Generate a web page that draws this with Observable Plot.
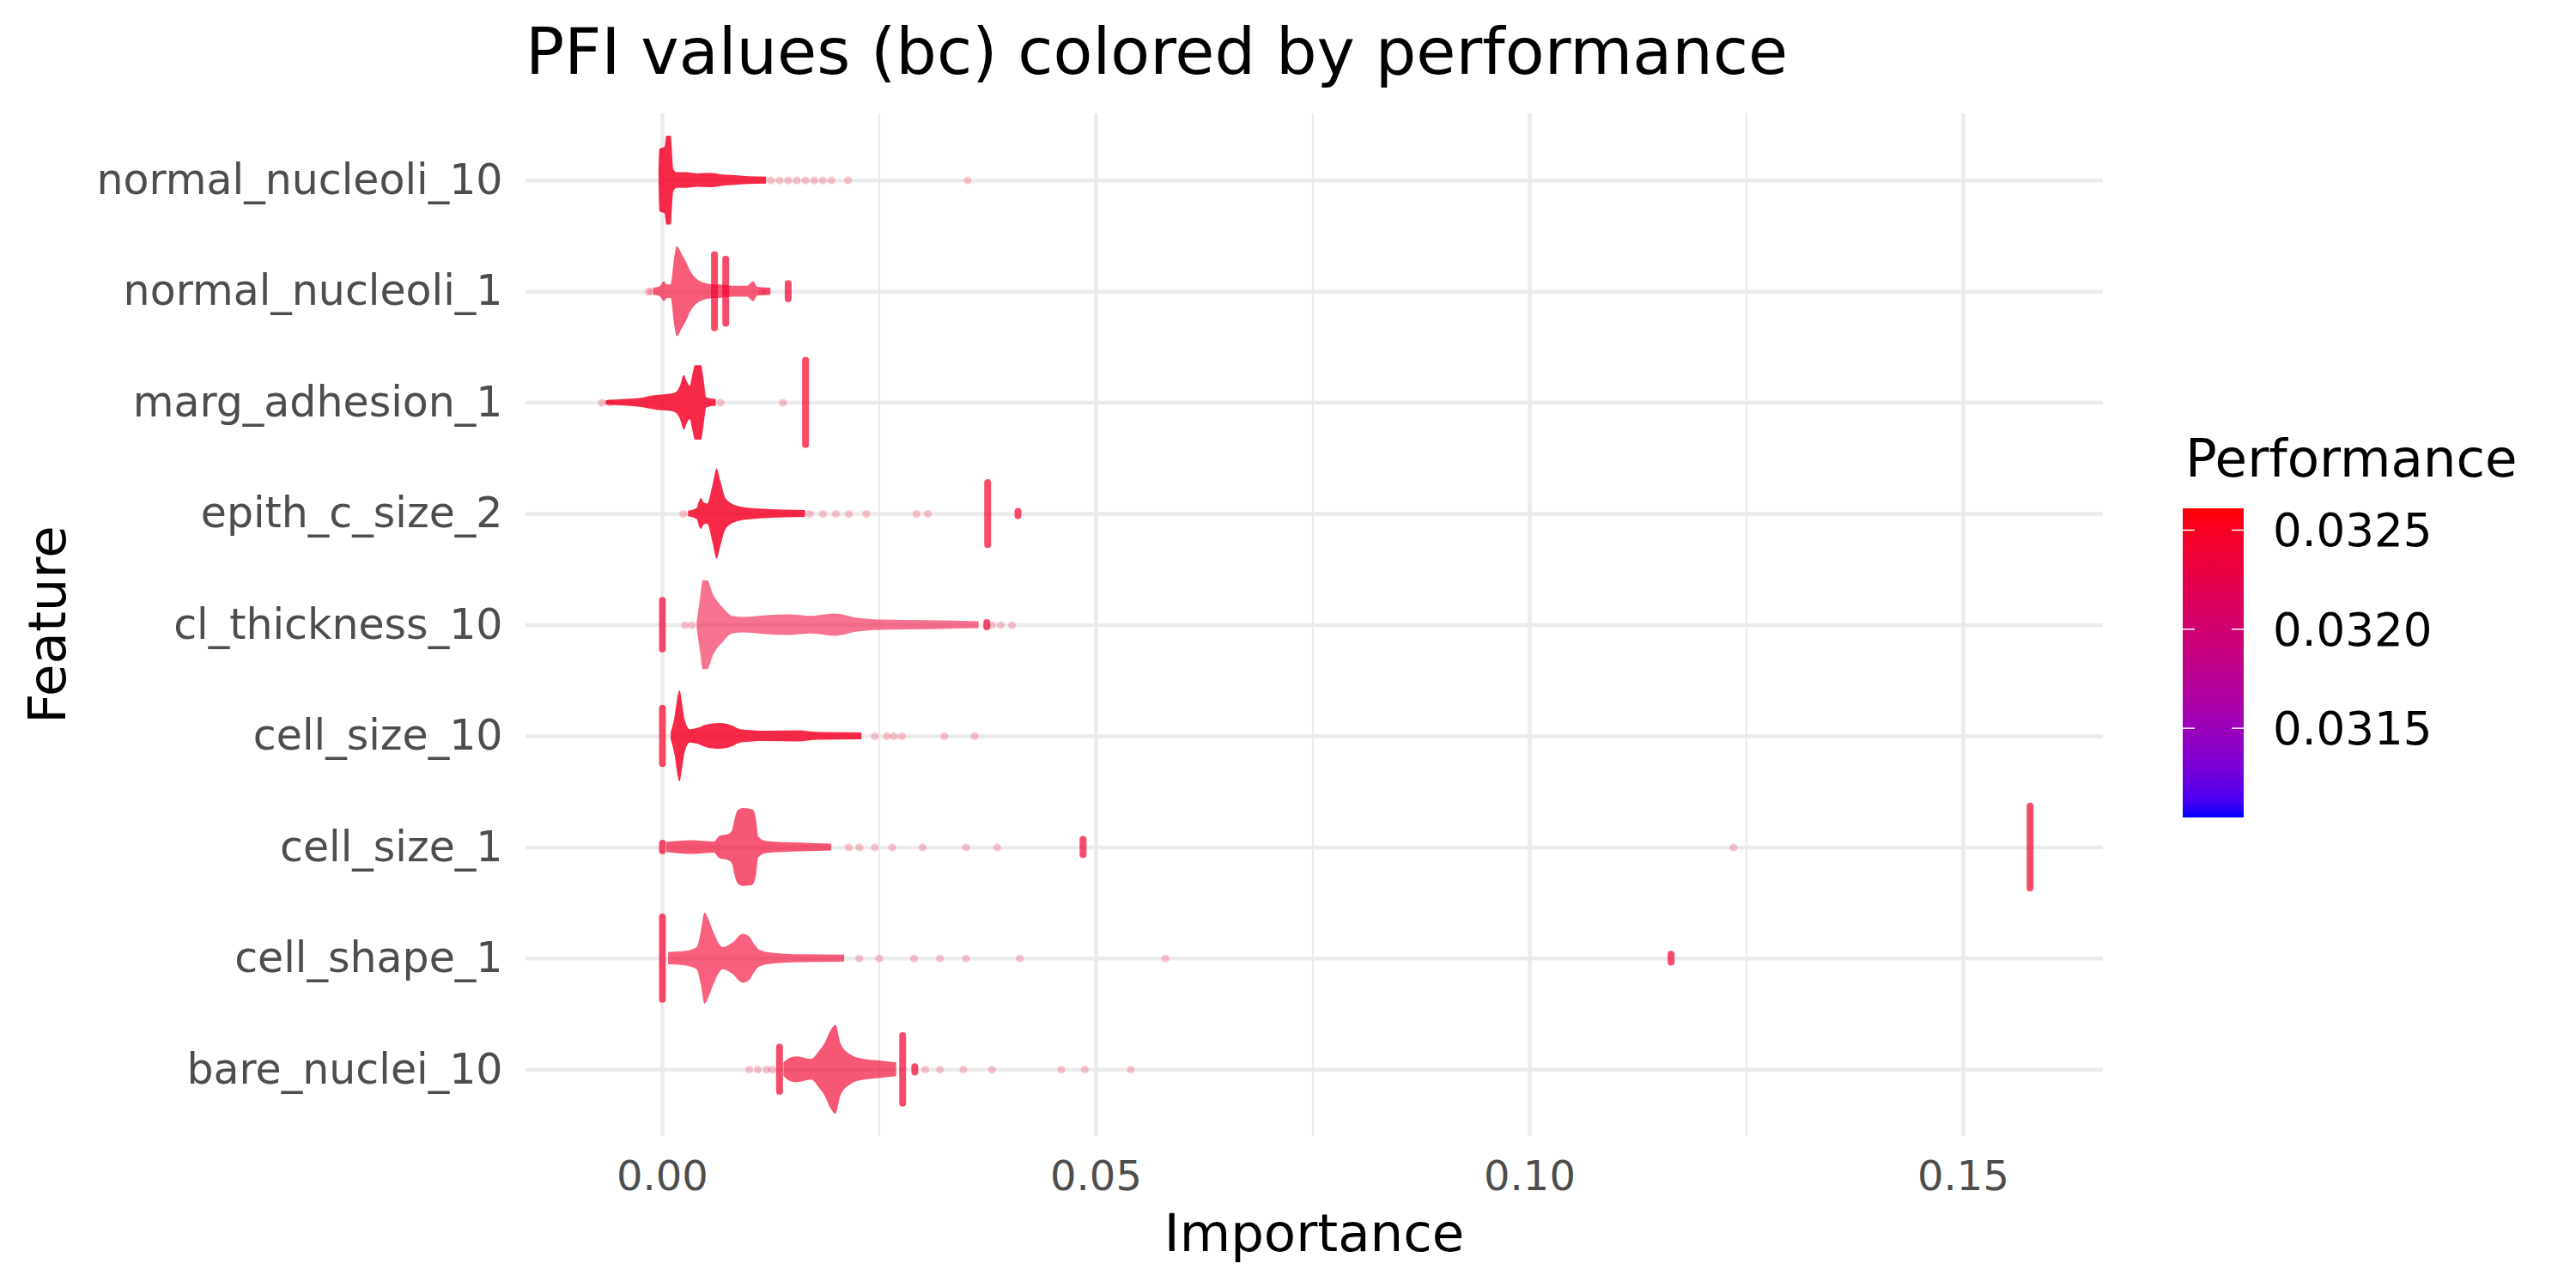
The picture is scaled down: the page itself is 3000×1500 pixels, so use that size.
<!DOCTYPE html>
<html>
<head>
<meta charset="utf-8">
<script src="https://cdn.jsdelivr.net/npm/d3@7"></script>
<script src="https://cdn.jsdelivr.net/npm/@observablehq/plot@0.6"></script>
<style>
  body { margin: 0; background: #ffffff; }
  #wrap { position: relative; width: 3000px; height: 1500px; font-family: "DejaVu Sans", sans-serif; }
  #wrap svg { position: absolute; left: 0; top: 0; }
</style>
</head>
<body>
<div id="wrap"></div>
<script>
// ---------------- DATA ----------------
const features = ["normal_nucleoli_10", "normal_nucleoli_1", "marg_adhesion_1", "epith_c_size_2",
  "cl_thickness_10", "cell_size_10", "cell_size_1", "cell_shape_1", "bare_nuclei_10"]; // top to bottom

// typical performance of each feature's points (colour)
const performance = [0.03248, 0.03243, 0.03248, 0.03248, 0.03240, 0.03248, 0.03243, 0.03243, 0.03243];

// dense bodies: [importance, relative half-width of the swarm]
const bodyNormalNucleoli10 = [[-0.0004, 0.03], [-0.0003, 0.28], [0.0003, 0.30], [0.0005, 0.40], [0.0010, 0.40], [0.0013, 0.10],
  [0.0017, 0.07], [0.0028, 0.07], [0.0040, 0.06], [0.0055, 0.065], [0.0070, 0.05], [0.0081, 0.045], [0.0100, 0.035], [0.0120, 0.031]];
const bodyNormalNucleoli1 = [[-0.0010, 0.031], [-0.0002, 0.05], [0.0002, 0.09], [0.0006, 0.06], [0.0010, 0.06], [0.0014, 0.30],
  [0.0017, 0.405], [0.0023, 0.33], [0.0028, 0.26], [0.0032, 0.19], [0.0040, 0.11], [0.0047, 0.08], [0.0055, 0.065],
  [0.0066, 0.06], [0.0081, 0.05], [0.0098, 0.05], [0.0105, 0.09], [0.0110, 0.04], [0.0125, 0.031]];
const bodyMargAdhesion1 = [[-0.0065, 0.02], [-0.0041, 0.031], [-0.0021, 0.046], [-0.0011, 0.062], [0.0, 0.07], [0.0009, 0.077],
  [0.0016, 0.093], [0.0021, 0.155], [0.0025, 0.245], [0.0029, 0.18], [0.0032, 0.15], [0.0035, 0.25], [0.0038, 0.335],
  [0.0045, 0.335], [0.0048, 0.20], [0.0051, 0.046], [0.0062, 0.031]];
const bodyEpithCSize2 = [[0.0030, 0.025], [0.0040, 0.05], [0.0043, 0.12], [0.0045, 0.14], [0.0048, 0.10], [0.0052, 0.09],
  [0.0058, 0.25], [0.0063, 0.405], [0.0067, 0.30], [0.0074, 0.13], [0.0089, 0.065], [0.0112, 0.045], [0.0140, 0.035], [0.0165, 0.031]];
const bodyClThickness10 = [[0.0040, 0.03], [0.0044, 0.25], [0.0047, 0.40], [0.0052, 0.40], [0.0059, 0.27], [0.0070, 0.155],
  [0.0081, 0.08], [0.0093, 0.07], [0.0120, 0.085], [0.0146, 0.093], [0.0172, 0.08], [0.0199, 0.10], [0.0225, 0.062],
  [0.0252, 0.046], [0.0309, 0.04], [0.0365, 0.031]];
const bodyCellSize10 = [[0.0010, 0.03], [0.0014, 0.15], [0.0020, 0.41], [0.0026, 0.15], [0.0032, 0.06], [0.0043, 0.077],
  [0.0050, 0.10], [0.0066, 0.116], [0.0081, 0.093], [0.0090, 0.06], [0.0120, 0.046], [0.0156, 0.05], [0.0180, 0.035], [0.0230, 0.031]];
const bodyCellSize1 = [[0.0005, 0.046], [0.0034, 0.062], [0.0060, 0.05], [0.0066, 0.10], [0.0077, 0.12], [0.0081, 0.155],
  [0.0083, 0.23], [0.0087, 0.325], [0.0093, 0.35], [0.0104, 0.34], [0.0108, 0.27], [0.0111, 0.093], [0.0120, 0.054],
  [0.0157, 0.04], [0.0195, 0.031]];
const bodyCellShape1 = [[0.0007, 0.055], [0.0024, 0.062], [0.0040, 0.10], [0.0045, 0.25], [0.0049, 0.41], [0.0053, 0.36],
  [0.0059, 0.24], [0.0070, 0.10], [0.0081, 0.14], [0.0093, 0.22], [0.0100, 0.20], [0.0106, 0.13], [0.0112, 0.077],
  [0.0127, 0.05], [0.0160, 0.035], [0.0210, 0.031]];
const bodyBareNuclei10 = [[0.0140, 0.06], [0.0146, 0.10], [0.0155, 0.116], [0.0172, 0.093], [0.0180, 0.155], [0.0187, 0.23],
  [0.0195, 0.36], [0.0200, 0.40], [0.0206, 0.23], [0.0218, 0.13], [0.0233, 0.093], [0.0252, 0.077], [0.0270, 0.062]];

// stacks of identical values (vertical runs): [importance, relative half-width]
const spikeNormalNucleoli10 = [];
const spikeNormalNucleoli1 = [[0.0060, 0.36], [0.0073, 0.32], [0.0145, 0.10]];
const spikeMargAdhesion1 = [[0.0165, 0.41]];
const spikeEpithCSize2 = [[0.0375, 0.31], [0.0410, 0.05]];
const spikeClThickness10 = [[0.0, 0.25], [0.0374, 0.05]];
const spikeCellSize10 = [[0.0, 0.28]];
const spikeCellSize1 = [[0.0, 0.065], [0.0485, 0.10], [0.1577, 0.40]];
const spikeCellShape1 = [[0.0, 0.40], [0.1163, 0.066]];
const spikeBareNuclei10 = [[0.0135, 0.23], [0.0277, 0.335], [0.0291, 0.055]];

// sparse single points in the tails: importance
const tailNormalNucleoli10 = [0.0125, 0.0135, 0.0145, 0.0155, 0.0165, 0.0175, 0.0185, 0.0195, 0.0214, 0.0352];
const tailNormalNucleoli1 = [-0.0016, -0.0013, 0.0115, 0.0120];
const tailMargAdhesion1 = [-0.0070, -0.0060, 0.0067, 0.0139];
const tailEpithCSize2 = [0.0024, 0.0170, 0.0185, 0.0200, 0.0215, 0.0235, 0.0293, 0.0306];
const tailClThickness10 = [0.0026, 0.0034, 0.0380, 0.0390, 0.0403];
const tailCellSize10 = [0.0245, 0.0259, 0.0267, 0.0276, 0.0325, 0.0360];
const tailCellSize1 = [0.0215, 0.0227, 0.0245, 0.0265, 0.0300, 0.0350, 0.0386, 0.1235];
const tailCellShape1 = [0.0227, 0.0250, 0.0290, 0.0320, 0.0350, 0.0412, 0.0580];
const tailBareNuclei10 = [0.0100, 0.0110, 0.0120, 0.0127, 0.0303, 0.0320, 0.0347, 0.0380, 0.0460, 0.0487, 0.0540];

const xTicks = [0, 0.05, 0.10, 0.15];
const xMinorTicks = [0.025, 0.075, 0.125];
const legendTicks = [0.0315, 0.0320, 0.0325];
const perfDomain = [0.03105, 0.03261];
const xDomain = [-0.01574, 0.16614];

// ---------------- tables built from the arrays ----------------
const bodies = [bodyNormalNucleoli10, bodyNormalNucleoli1, bodyMargAdhesion1, bodyEpithCSize2, bodyClThickness10,
  bodyCellSize10, bodyCellSize1, bodyCellShape1, bodyBareNuclei10];
const spikes = [spikeNormalNucleoli10, spikeNormalNucleoli1, spikeMargAdhesion1, spikeEpithCSize2, spikeClThickness10,
  spikeCellSize10, spikeCellSize1, spikeCellShape1, spikeBareNuclei10];
const tails = [tailNormalNucleoli10, tailNormalNucleoli1, tailMargAdhesion1, tailEpithCSize2, tailClThickness10,
  tailCellSize10, tailCellSize1, tailCellShape1, tailBareNuclei10];

const n = features.length;
const bodyRows = [], spikeRows = [], tailRows = [];
features.forEach((f, i) => {
  const idx = n - i, perf = performance[i];
  bodies[i].forEach(([v, hw]) => bodyRows.push({ k: i, feature: f, idx, v, hw, perf }));
  spikes[i].forEach(([v, hw]) => spikeRows.push({ k: i, feature: f, idx, v, hw, perf }));
  tails[i].forEach(v => tailRows.push({ k: i, feature: f, idx, v, perf }));
});

// ---------------- styles / layout ----------------
const W = 3000, H = 1500;
const mL = 612, mR = 551, mT = 132, mB = 177;
const bodyOpacity = [0.84, 0.64, 0.84, 0.84, 0.55, 0.84, 0.66, 0.62, 0.66];
const rowPx = (H - mT - mB) / (n + 0.2);
const rUnit = 4 / rowPx;
const grid = "#EBEBEB";

const marks = [
  Plot.ruleX(xMinorTicks, { stroke: grid, strokeWidth: 2.3 }),
  Plot.ruleX(xTicks, { stroke: grid, strokeWidth: 4.5 }),
  Plot.ruleY(d3.range(1, n + 1), { stroke: grid, strokeWidth: 4.5 }),
  ...features.map((f, i) => Plot.areaY(bodyRows.filter(d => d.k === i), {
    x: "v", y1: d => d.idx - d.hw, y2: d => d.idx + d.hw,
    fill: "perf", fillOpacity: bodyOpacity[i], curve: "monotone-x"
  })),
  Plot.ruleX(spikeRows, {
    x: "v", y1: d => d.idx - Math.max(d.hw - rUnit, 0.002), y2: d => d.idx + Math.max(d.hw - rUnit, 0.002),
    stroke: "perf", strokeWidth: 8, strokeLinecap: "round", strokeOpacity: 0.7
  }),
  Plot.dot(tailRows, { x: "v", y: "idx", r: 4.6, fill: "perf", fillOpacity: 0.22, stroke: null }),
  Plot.axisX({ ticks: xTicks, tickFormat: d3.format(".2f"), tickSize: 0, tickPadding: 28, fontSize: 48, color: "#4D4D4D", label: null }),
  Plot.axisY({ ticks: d3.range(1, n + 1), tickFormat: i => features[n - i], tickSize: 0, tickPadding: 27, fontSize: 49, color: "#4D4D4D", label: null })
];

const chart = Plot.plot({
  width: W, height: H,
  marginLeft: mL, marginRight: mR, marginTop: mT, marginBottom: mB,
  style: { fontFamily: "DejaVu Sans, sans-serif", background: "transparent", overflow: "visible" },
  x: { domain: xDomain, axis: null },
  y: { domain: [0.4, n + 0.6], axis: null },
  color: { type: "linear", domain: perfDomain, range: ["blue", "red"], interpolate: d3.interpolateLab },
  marks
});

const wrap = document.getElementById("wrap");
wrap.appendChild(chart);

// ---------------- titles and colour legend ----------------
const colorScale = d3.scaleLinear().domain(perfDomain).range(["blue", "red"]).interpolate(d3.interpolateLab);
const svg = d3.create("svg").attr("width", W).attr("height", H)
  .style("font-family", "DejaVu Sans, sans-serif").style("pointer-events", "none");

svg.append("text").attr("x", 612).attr("y", 86).attr("font-size", 75).attr("fill", "#000")
  .text("PFI values (bc) colored by performance");
svg.append("text").attr("x", (mL + W - mR) / 2).attr("y", 1457).attr("text-anchor", "middle")
  .attr("font-size", 61).attr("fill", "#000").text("Importance");
svg.append("text").attr("transform", `translate(76,${(mT + H - mB) / 2}) rotate(-90)`).attr("text-anchor", "middle")
  .attr("font-size", 61).attr("fill", "#000").text("Feature");

// legend
const lgX = 2542, lgW = 71, lgTop = 592, lgBot = 952;
const ly = d3.scaleLinear().domain(perfDomain).range([lgBot, lgTop]);
const defs = svg.append("defs");
const grad = defs.append("linearGradient").attr("id", "perfGrad").attr("x1", 0).attr("x2", 0).attr("y1", 1).attr("y2", 0);
d3.range(0, 1.0001, 0.05).forEach(t => {
  const v = perfDomain[0] + t * (perfDomain[1] - perfDomain[0]);
  grad.append("stop").attr("offset", t).attr("stop-color", colorScale(v));
});
svg.append("text").attr("x", 2545).attr("y", 555).attr("font-size", 61).attr("fill", "#000").text("Performance");
svg.append("rect").attr("x", lgX).attr("y", lgTop).attr("width", lgW).attr("height", lgBot - lgTop).attr("fill", "url(#perfGrad)");
legendTicks.forEach(v => {
  const y = ly(v);
  svg.append("line").attr("x1", lgX).attr("x2", lgX + 14).attr("y1", y).attr("y2", y).attr("stroke", "#fff").attr("stroke-width", 1.5);
  svg.append("line").attr("x1", lgX + lgW - 14).attr("x2", lgX + lgW).attr("y1", y).attr("y2", y).attr("stroke", "#fff").attr("stroke-width", 1.5);
  svg.append("text").attr("x", 2647).attr("y", y).attr("dy", "0.36em").attr("font-size", 53).attr("fill", "#000")
    .text(d3.format(".4f")(v));
});

wrap.appendChild(svg.node());
</script>
</body>
</html>
